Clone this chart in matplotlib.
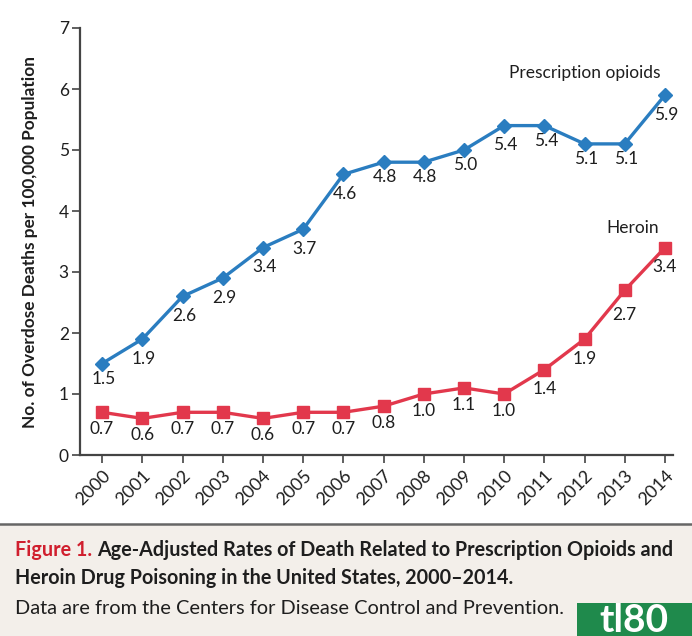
import numpy as np
import matplotlib
matplotlib.use("Agg")
import matplotlib.pyplot as plt
from matplotlib.patches import Rectangle

years = list(range(2000, 2015))
rx_opioids = [1.5, 1.9, 2.6, 2.9, 3.4, 3.7, 4.6, 4.8, 4.8, 5.0, 5.4, 5.4, 5.1, 5.1, 5.9]
heroin = [0.7, 0.6, 0.7, 0.7, 0.6, 0.7, 0.7, 0.8, 1.0, 1.1, 1.0, 1.4, 1.9, 2.7, 3.4]
y_ticks = [0, 1, 2, 3, 4, 5, 6, 7]

BLUE = "#2a7dc0"
RED = "#e2384c"
TXT = "#1e1e1e"

plt.rcParams["font.family"] = ["Lato", "DejaVu Sans"]

fig = plt.figure(figsize=(6.92, 6.36), dpi=100)
ax = fig.add_axes([80 / 692, 1 - 455 / 636, 593 / 692, 427 / 636])

ax.plot(years, rx_opioids, color=BLUE, lw=2.4, marker="D", ms=7, mec=BLUE, zorder=3)
ax.plot(years, heroin, color=RED, lw=2.4, marker="s", ms=8.5, mec=RED, zorder=3)

# steeper neighbours push the label a bit further down, as in the original
for i, (x, v) in enumerate(zip(years, rx_opioids)):
    prev = rx_opioids[i - 1] if i > 0 else v
    dy = -14 if v - prev > 0.25 else -11
    ax.annotate(f"{v:.1f}", (x, v), xytext=(1, dy), textcoords="offset points",
                ha="center", va="center", fontsize=12.5, color=TXT)
for i, (x, v) in enumerate(zip(years, heroin)):
    prev = heroin[i - 1] if i > 0 else v
    dy = -18 if x == 2013 else (-14 if v - prev > 0.25 else -12)
    ax.annotate(f"{v:.1f}", (x, v), xytext=(0, dy), textcoords="offset points",
                ha="center", va="center", fontsize=12.5, color=TXT)

ax.text(2012.0, 6.26, "Prescription opioids", fontsize=12.5, color=TXT, ha="center", va="center")
ax.text(2013.2, 3.72, "Heroin", fontsize=12.5, color=TXT, ha="center", va="center")

ax.set_xlim(1999.45, 2014.2)
ax.set_ylim(0, 7)
ax.set_yticks(y_ticks)
ax.set_xticks(years)
ax.set_xticklabels([str(y) for y in years], rotation=45, ha="right",
                   rotation_mode="anchor", fontsize=13, color=TXT)
ax.tick_params(axis="y", labelsize=12.5, colors="#444444", labelcolor=TXT,
               length=6, width=1.2, direction="out", pad=2)
ax.tick_params(axis="x", length=6, width=1.2, direction="out", colors="#444444",
               labelcolor=TXT, pad=3)
for s in ["top", "right"]:
    ax.spines[s].set_visible(False)
for s in ["left", "bottom"]:
    ax.spines[s].set_color("#444444")
    ax.spines[s].set_linewidth(1.6)
ax.set_ylabel("No. of Overdose Deaths per 100,000 Population", fontsize=12.4,
              fontweight="bold", color=TXT)
ax.yaxis.set_label_coords(-(80 - 38) / 593, 0.5)

# caption band
fig.patches.append(Rectangle((0, 0), 1, 1 - 525 / 636, transform=fig.transFigure,
                             facecolor="#f3efea", edgecolor="none", zorder=0))
fig.add_artist(plt.Line2D([0, 1], [1 - 524 / 636, 1 - 524 / 636], transform=fig.transFigure,
                          color="#666666", lw=1.8))
t1 = fig.text(15 / 692, 1 - 550 / 636, "Figure 1.", fontsize=14.2, fontweight="bold",
              color="#d01f2e", va="center", ha="left")
fig.canvas.draw()
bb = t1.get_window_extent()
fig.text((bb.x1 + 5) / 692, 1 - 550 / 636,
         "Age-Adjusted Rates of Death Related to Prescription Opioids and",
         fontsize=14.2, fontweight="bold", color=TXT, va="center", ha="left")
fig.text(15 / 692, 1 - 578 / 636, "Heroin Drug Poisoning in the United States, 2000\u20132014.",
         fontsize=14.2, fontweight="bold", color=TXT, va="center", ha="left")
fig.text(15 / 692, 1 - 609 / 636, "Data are from the Centers for Disease Control and Prevention.",
         fontsize=14.4, color=TXT, va="center", ha="left")

# watermark
fig.patches.append(Rectangle((577 / 692, 0), 115 / 692, 33 / 636, transform=fig.transFigure,
                             facecolor="#1f8a4c", edgecolor="none", zorder=5))
fig.text(634 / 692, 16 / 636, "tl80", fontsize=28, fontweight="bold", color="white",
         ha="center", va="center", zorder=6)

fig.savefig("out.png", dpi=100)
